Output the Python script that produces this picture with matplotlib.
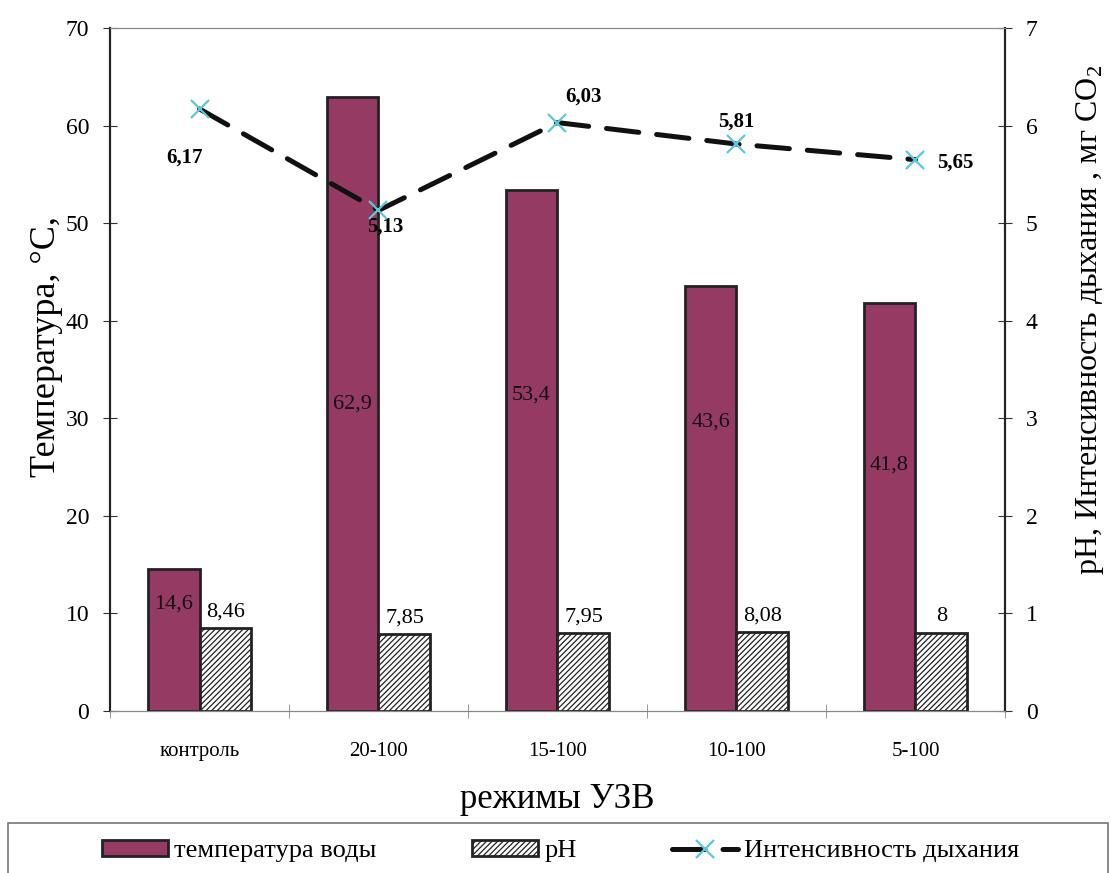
import numpy as np
import matplotlib.pyplot as plt
from matplotlib.patches import Rectangle

plt.rcParams['font.family'] = ['Liberation Serif', 'DejaVu Serif']
plt.rcParams['mathtext.fontset'] = 'custom'
plt.rcParams['mathtext.rm'] = 'Liberation Serif'
plt.rcParams['hatch.color'] = '#555555'
plt.rcParams['hatch.linewidth'] = 0.9

# режимы обработки
modes = ['контроль', '20-100', '15-100', '10-100', '5-100']
temperature = [14.6, 62.9, 53.4, 43.6, 41.8]
ph = [8.46, 7.85, 7.95, 8.08, 8.0]
respiration = [6.17, 5.13, 6.03, 5.81, 5.65]

temp_labels = ['14,6', '62,9', '53,4', '43,6', '41,8']
ph_labels = ['8,46', '7,85', '7,95', '8,08', '8']
resp_labels = ['6,17', '5,13', '6,03', '5,81', '5,65']

# where the labels sit (data units / point offsets)
temp_label_y = [11.0, 31.5, 32.4, 29.6, 25.2]
resp_label_offsets = [(-11, -35), (5, -12), (19, 19), (0, 16), (29, -2)]

bar_color = '#943a63'
edge = '#222222'
w = 0.29

fig = plt.figure(figsize=(11.1, 8.73), dpi=100)
ax = fig.add_axes([0.0991, 0.1856, 0.8063, 0.7824])
ax2 = ax.twinx()

x = np.arange(len(modes))
b1 = ax.bar(x - w / 2, temperature, w, color=bar_color, edgecolor=edge, linewidth=2,
            label='температура воды', zorder=2)
b2 = ax.bar(x + w / 2, ph, w, color='white', edgecolor=edge, linewidth=2, hatch='//////',
            label='pH', zorder=2)

for xi, yl, t in zip(x, temp_label_y, temp_labels):
    ax.text(xi - w / 2, yl, t, ha='center', va='center', fontsize=16, color='#111111', zorder=3)
for xi, v, t in zip(x, ph, ph_labels):
    ax.annotate(t, (xi + w / 2, v), xytext=(0, 5), textcoords='offset points',
                ha='center', va='bottom', fontsize=16)

line, = ax2.plot(x, respiration, color='#111111', lw=3.6, dash_capstyle='round',
                 marker='x', markersize=13, markeredgecolor='#5cc8d6', markeredgewidth=1.6,
                 label='Интенсивность дыхания', zorder=4)
line.set_dashes([6.5, 3.6])
for xi, v, t, off in zip(x, respiration, resp_labels, resp_label_offsets):
    ax2.annotate(t, (xi, v), xytext=off, textcoords='offset points', ha='center',
                 va='center', fontsize=15, fontweight='bold')

ax.set_xlim(-0.5, len(modes) - 0.5)
ax.set_ylim(0, 70)
ax2.set_ylim(0, 7)
ax.set_yticks(np.arange(0, 71, 10))
ax2.set_yticks(np.arange(0, 8, 1))

ax.set_xticks(x)
ax.set_xticklabels(modes, fontsize=15)
ax.set_xticks(np.arange(-0.5, len(modes)), minor=True)
ax.tick_params(axis='x', which='major', length=0, pad=22)
ax.tick_params(axis='x', which='minor', direction='inout', length=10, color='#888888')
ax.tick_params(axis='y', direction='inout', length=10, labelsize=17, pad=10, color='#333333')
ax2.tick_params(axis='y', direction='inout', length=10, labelsize=17, pad=10, color='#333333')

for a in (ax, ax2):
    a.spines['top'].set_color('#888888')
    a.spines['bottom'].set_color('#888888')
    a.spines['left'].set_color('#222222')
    a.spines['right'].set_color('#222222')
    a.spines['left'].set_linewidth(1.5)
    a.spines['right'].set_linewidth(1.5)

ax.set_xlabel('режимы УЗВ', fontsize=25, labelpad=16)
ax.set_ylabel('Температура, °С,', fontsize=26)
ax.yaxis.set_label_coords(-0.053, 0.533)
ax2.set_ylabel('pH, Интенсивность дыхания , мг CO$_\\mathregular{2}$', fontsize=23)
ax2.yaxis.set_label_coords(1.077, 0.573)

fig.patches.append(Rectangle((0.007, -0.01), 0.991, 0.067, transform=fig.transFigure,
                             fill=False, edgecolor='#777777', lw=1.2))
fig.legend(handles=[b1, b2, line], loc='center', bbox_to_anchor=(0.505, 0.025), ncol=3,
           frameon=False, fontsize=19, handlelength=2.5, handleheight=0.55,
           columnspacing=3.6, handletextpad=0.25)

fig.savefig('out.png', dpi=100)
